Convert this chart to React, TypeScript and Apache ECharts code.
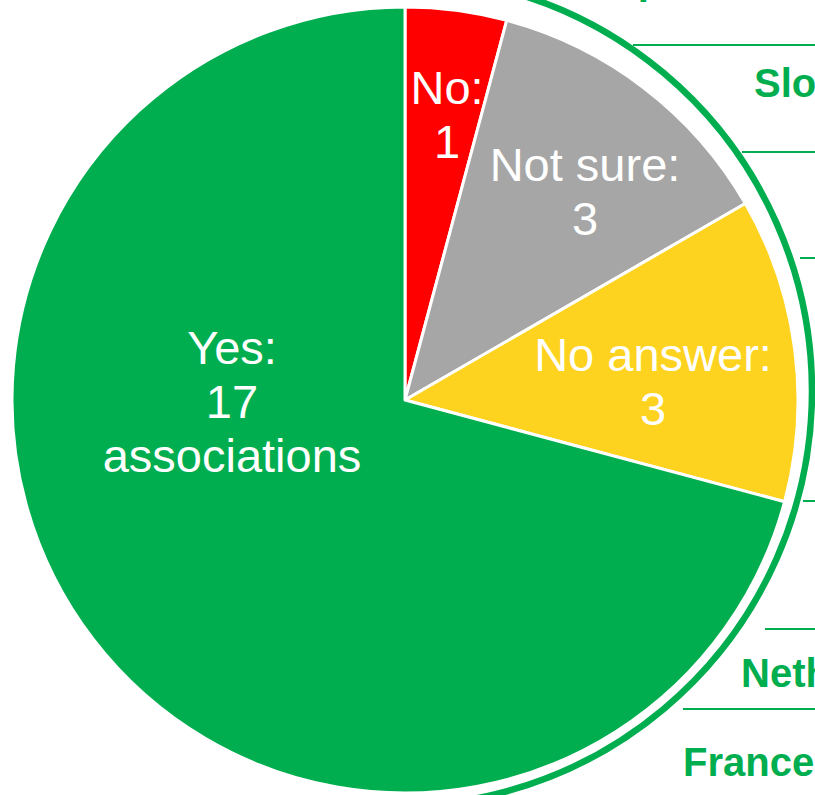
import React, { useEffect, useRef } from "react";
import * as echarts from "echarts";

const categories = ["No", "Not sure", "No answer", "Yes"];
const counts = [1, 3, 3, 17];
const sliceColors = ["#FF0000", "#A6A6A6", "#FDD31F", "#00AE4F"];
const yesSuffix = "associations";

const countryLabels = ["Spain", "Slovenia", "Netherlands", "France"];

// label centres (px) for the pie labels
const labelCenters: [number, number][] = [
  [447, 114],
  [585, 191],
  [653, 381],
  [232, 401],
];
// country label anchors (left x, middle y)
const countryPos: [number, number][] = [
  [611, -20],
  [754, 83],
  [741, 673],
  [683, 762],
];
// separator lines (start x, y)
const separators: [number, number][] = [
  [633, 45],
  [742, 152],
  [800, 258],
  [803, 501],
  [765, 629],
  [683, 709],
];

const GREEN = "#00AE4F";

export default function App() {
  const ref = useRef<HTMLDivElement>(null);
  useEffect(() => {
    if (!ref.current) return;
    const chart = echarts.init(ref.current, null, { renderer: "svg" });
    const graphics: any[] = [
      {
        type: "arc",
        shape: {
          cx: 397,
          cy: 391,
          r: 415,
          startAngle: (-100 * Math.PI) / 180,
          endAngle: (100 * Math.PI) / 180,
        },
        style: { stroke: GREEN, lineWidth: 6.5, fill: "none" },
        z: 1,
      },
      ...separators.map(([x, y]) => ({
        type: "line",
        shape: { x1: x, y1: y, x2: 830, y2: y },
        style: { stroke: GREEN, lineWidth: 2 },
        z: 1,
      })),
      ...countryLabels.map((t, i) => ({
        type: "text",
        x: countryPos[i][0],
        y: countryPos[i][1],
        style: {
          text: t,
          fill: GREEN,
          font: 'bold 40px "Liberation Sans", Arial, sans-serif',
          align: "left",
          verticalAlign: "middle",
        },
        z: 1,
      })),
    ];
    chart.setOption({
      animation: false,
      backgroundColor: "#ffffff",
      graphic: graphics,
      series: [
        {
          type: "pie",
          center: [405, 400],
          radius: [0, 393],
          startAngle: 90,
          clockwise: true,
          silent: true,
          itemStyle: { borderColor: "#ffffff", borderWidth: 3 },
          label: {
            show: true,
            position: "inside",
            color: "#ffffff",
            fontSize: 47,
            lineHeight: 54,
            fontFamily: '"Liberation Sans", Arial, sans-serif',
            align: "center",
            formatter: (p: any) =>
              p.name + ":\n" + p.value + (p.name === "Yes" ? "\n" + yesSuffix : ""),
          },
          labelLine: { show: false },
          labelLayout: (p: any) => {
            const c = labelCenters[p.dataIndex];
            return { x: c[0], y: c[1], align: "center", verticalAlign: "middle" };
          },
          data: categories.map((name, i) => ({
            name,
            value: counts[i],
            itemStyle: { color: sliceColors[i] },
          })),
        },
      ],
    });
    return () => chart.dispose();
  }, []);
  return (
    <div
      ref={ref}
      style={{ position: "absolute", left: 0, top: 0, width: 815, height: 795, overflow: "hidden" }}
    />
  );
}
